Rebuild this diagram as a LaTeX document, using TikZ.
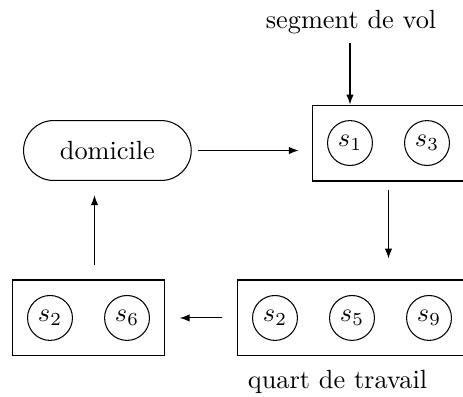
\documentclass[tikz,border=0pt]{standalone}
\usepackage{tikz}
\usetikzlibrary{arrows.meta, positioning, fit, calc}
\tikzset{
  segment/.style={circle, draw, minimum size=0.6cm, inner sep=0pt}, % one flight segment
  groupe/.style={draw, rectangle, inner sep=0.2cm}, % box round a group of segments
  lieu/.style={draw, rectangle, rounded corners=0.4cm, minimum width=2.24cm, minimum height=0.8cm},
  fleche/.style={-{Latex[length=3.8pt,width=2.8pt]}}
}
\begin{document}
\begin{tikzpicture}[node distance=4.15mm]
    \useasboundingbox (0,0) rectangle (6.186,-5.304);

    % Nodes
    \node [segment] (v1) at (4.676,-1.911) {\(s_1\)};
    \node [segment, right=of v1] (v3) {\(s_3\)};
    \node [groupe, fit=(v1)(v3)] (vol) {};

    \node [lieu, left=1.6cm of vol, yshift=-0.1cm] (dom) {domicile};
    \node (labelvol) at (4.69,-0.294) {segment de vol};

    \node [segment] (q2) at (3.674,-4.248) {\(s_2\)};
    \node [segment, right=of q2] (q5) {\(s_5\)};
    \node [segment, right=of q5] (q9) {\(s_9\)};
    \node [groupe, fit=(q2)(q5)(q9)] (quart) {};
    \node (labelquart) at (4.51,-5.10) {quart de travail};

    \node [segment] (r2) at (0.668,-4.248) {\(s_2\)};
    \node [segment, right=of r2] (r6) {\(s_6\)};
    \node [groupe, fit=(r2)(r6)] (repos) {};

    % Edges
    \draw[fleche] (labelvol.south -| v1) -- (vol.north -| v1);
    \draw[fleche, shorten <=0.09cm, shorten >=0.17cm] (dom.east) -- (dom.east -| vol.west);
    \draw[fleche, shorten <=0.11cm, shorten >=0.28cm] (vol.south) -- (vol.south |- quart.north);
    \draw[fleche, shorten <=0.19cm, shorten >=0.19cm] (quart.west |- q2) -- (repos.east |- q2);
    \coordinate (haut) at ($(repos.north)+(0.08,0)$);
    \draw[fleche, shorten <=0.19cm, shorten >=0.19cm] (haut) -- (haut |- dom.south);

\end{tikzpicture}
\end{document}
